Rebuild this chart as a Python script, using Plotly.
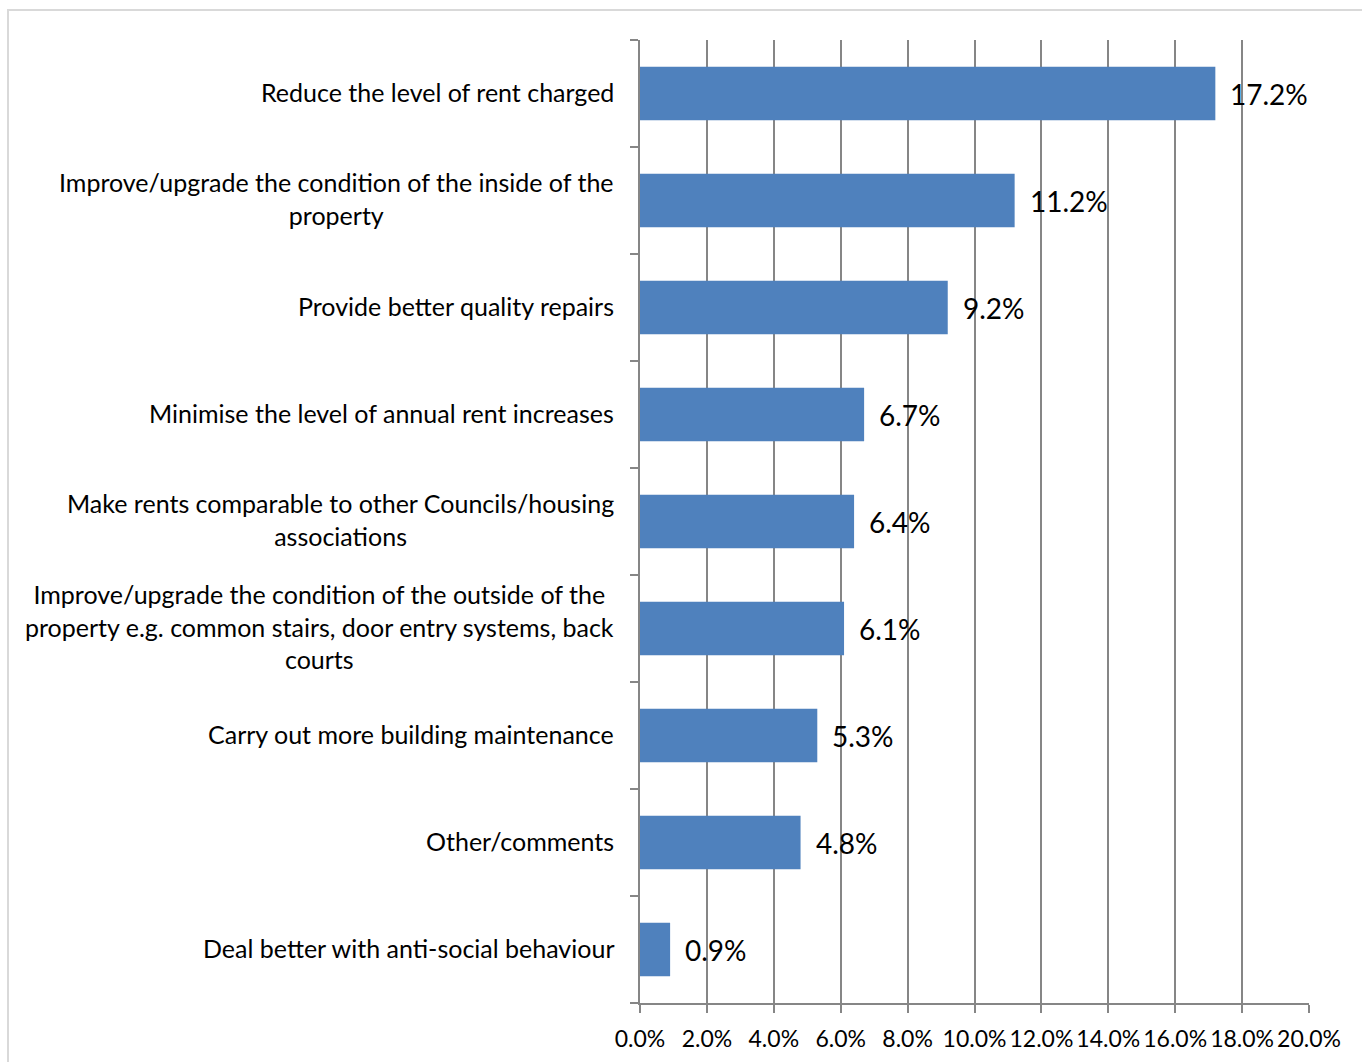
import plotly.graph_objects as go

# Survey responses: suggested improvements (share of respondents)
categories = [
    "Reduce the level of rent charged",
    "Improve/upgrade the condition of the inside of the<br>property",
    "Provide better quality repairs",
    "Minimise the level of annual rent increases",
    "Make rents comparable to other Councils/housing<br>associations",
    "Improve/upgrade the condition of the outside of the<br>property e.g. common stairs, door entry systems, back<br>courts",
    "Carry out more building maintenance",
    "Other/comments",
    "Deal better with anti-social behaviour",
]
values = [17.2, 11.2, 9.2, 6.7, 6.4, 6.1, 5.3, 4.8, 0.9]
x_ticks = [0, 2, 4, 6, 8, 10, 12, 14, 16, 18, 20]
x_tick_labels = [f"{t:.1f}%" for t in x_ticks]

BAR = "#4f81bd"
AXIS = "#868686"
FONT = "Lato, 'Open Sans', sans-serif"

n = len(categories)
positions = list(range(n))
# tick marks sit on the boundaries between category slots
boundaries = [p - 0.5 for p in range(n + 1)]

fig = go.Figure()
fig.add_trace(go.Bar(
    x=values,
    y=positions,
    orientation="h",
    marker=dict(color=BAR, line=dict(width=0)),
    width=0.5,
    hoverinfo="skip",
))

annotations = []
# Category labels, centred text block right-aligned against the axis
for i, cat in enumerate(categories):
    annotations.append(dict(
        x=0, xref="paper", y=i, yref="y",
        text=cat, showarrow=False,
        xanchor="right", yanchor="middle", align="center",
        xshift=-24, yshift=2,
        font=dict(family=FONT, size=25, color="#000000"),
    ))
# Value labels beyond each bar
for i, v in enumerate(values):
    annotations.append(dict(
        x=v, xref="x", y=i, yref="y",
        text=f"{v:.1f}%", showarrow=False,
        xanchor="left", yanchor="middle",
        xshift=13, yshift=0,
        font=dict(family=FONT, size=28, color="#000000"),
    ))

fig.update_layout(
    width=1362, height=1062,
    margin=dict(l=640, r=53, t=40, b=59),
    paper_bgcolor="white", plot_bgcolor="white",
    showlegend=False,
    annotations=annotations,
    shapes=[dict(
        type="rect", xref="paper", yref="paper",
        x0=-0.9447, x1=1.2, y0=-0.2, y1=1.0312,
        line=dict(color="#d9d9d9", width=2), layer="below",
    )],
)

fig.update_xaxes(
    range=[0, 20], automargin=False,
    tickmode="array", tickvals=x_ticks, ticktext=x_tick_labels,
    tickangle=0,
    showgrid=True, gridcolor=AXIS, gridwidth=2,
    showline=True, linecolor=AXIS, linewidth=2,
    ticks="outside", ticklen=8, tickcolor=AXIS, tickwidth=2,
    ticklabelstandoff=6,
    tickfont=dict(family=FONT, size=23, color="#000000"),
    zeroline=False, fixedrange=True,
)
fig.update_yaxes(
    range=[n - 0.5, -0.5], automargin=False,
    tickmode="array", tickvals=boundaries,
    showticklabels=False,
    showgrid=False,
    showline=True, linecolor=AXIS, linewidth=2,
    ticks="outside", ticklen=8, tickcolor=AXIS, tickwidth=2,
    zeroline=False, fixedrange=True,
)

fig.write_html("out.html")
